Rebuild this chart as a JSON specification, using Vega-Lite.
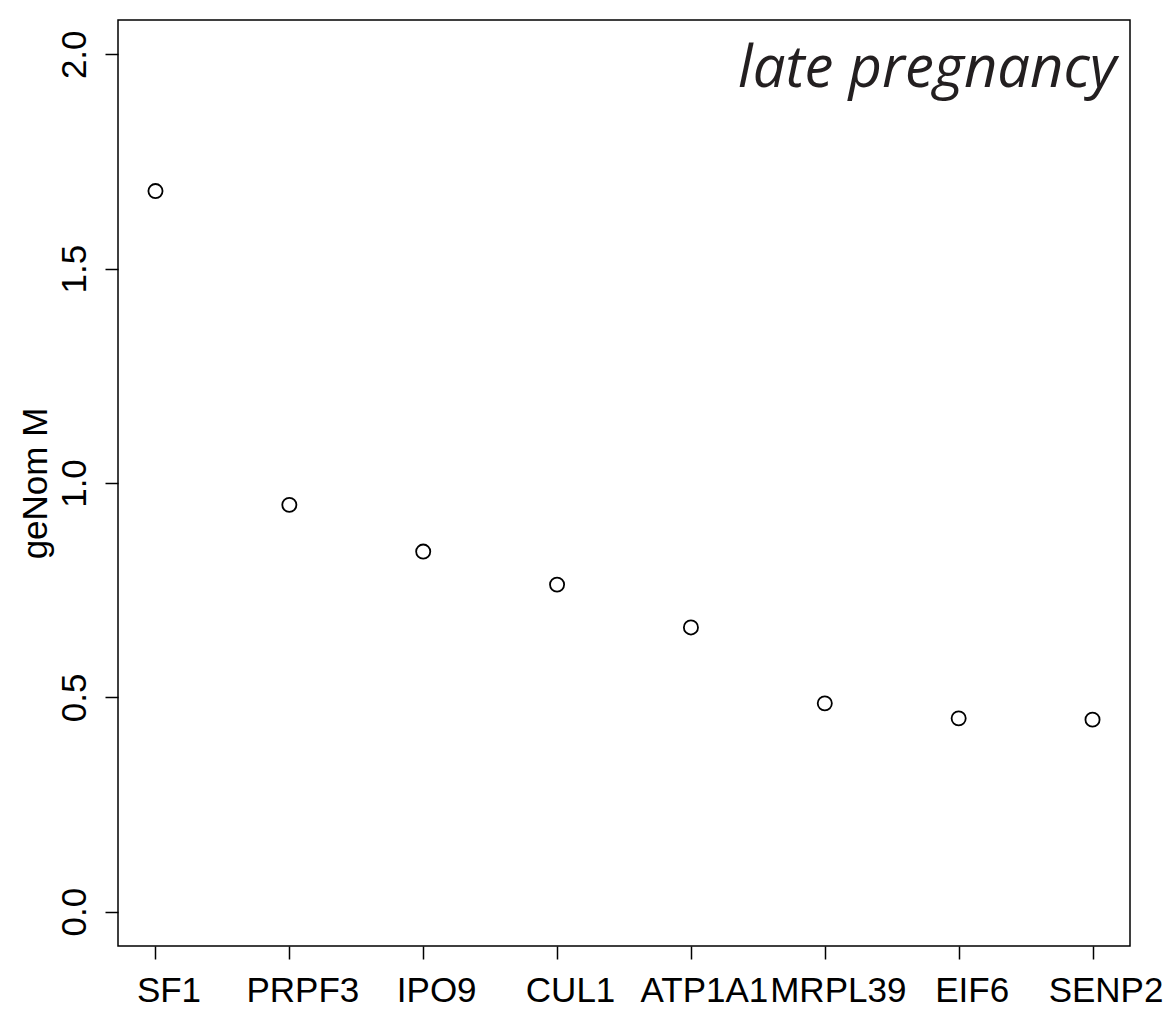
{
  "$schema": "https://vega.github.io/schema/vega-lite/v6.json",
  "autosize": "none",
  "padding": {"left": 118, "top": 20, "right": 45, "bottom": 68},
  "width": 1012,
  "height": 926,
  "background": "white",
  "config": {
    "view": {"stroke": "black", "strokeWidth": 1.5},
    "font": "Liberation Sans",
    "axis": {"grid": false, "domain": false, "tickColor": "black", "tickWidth": 1.5, "tickSize": 13, "labelColor": "black", "titleColor": "black", "labelFont": "Liberation Sans", "titleFont": "Liberation Sans", "labelFontSize": 35, "titleFontSize": 35, "titleFontWeight": "normal"}
  },
  "data": {"values": [
    {"gene": "SF1", "M": 1.681},
    {"gene": "PRPF3", "M": 0.949},
    {"gene": "IPO9", "M": 0.840},
    {"gene": "CUL1", "M": 0.763},
    {"gene": "ATP1A1", "M": 0.663},
    {"gene": "MRPL39", "M": 0.486},
    {"gene": "EIF6", "M": 0.451},
    {"gene": "SENP2", "M": 0.448}
  ]},
  "layer": [
    {
      "mark": {"type": "point", "shape": "circle", "filled": false, "stroke": "black", "strokeWidth": 1.8, "size": 200, "opacity": 1},
      "encoding": {
        "x": {"field": "gene", "type": "nominal", "sort": ["SF1", "PRPF3", "IPO9", "CUL1", "ATP1A1", "MRPL39", "EIF6", "SENP2"], "scale": {"type": "point", "padding": 0.28},
              "axis": {"title": null, "labelAngle": 0, "labelPadding": 14, "labelFontSize": 35, "labelOffset": 13}},
        "y": {"field": "M", "type": "quantitative", "scale": {"domain": [-0.08, 2.08], "nice": false, "zero": false},
              "axis": {"title": "geNom M", "values": [0, 0.5, 1, 1.5, 2], "format": ".1f", "labelAngle": -90, "labelPadding": 13, "titlePadding": 4}}
      }
    },
    {
      "data": {"values": [{"label": "late pregnancy", "gene": "SENP2", "M": 1.924}]},
      "mark": {"type": "text", "font": "Open Sans", "fontStyle": "italic", "fontSize": 58, "align": "right", "baseline": "alphabetic", "dx": 24, "color": "#231f20"},
      "encoding": {
        "x": {"field": "gene", "type": "nominal", "sort": ["SF1", "PRPF3", "IPO9", "CUL1", "ATP1A1", "MRPL39", "EIF6", "SENP2"]},
        "y": {"field": "M", "type": "quantitative"},
        "text": {"field": "label"}
      }
    }
  ]
}
